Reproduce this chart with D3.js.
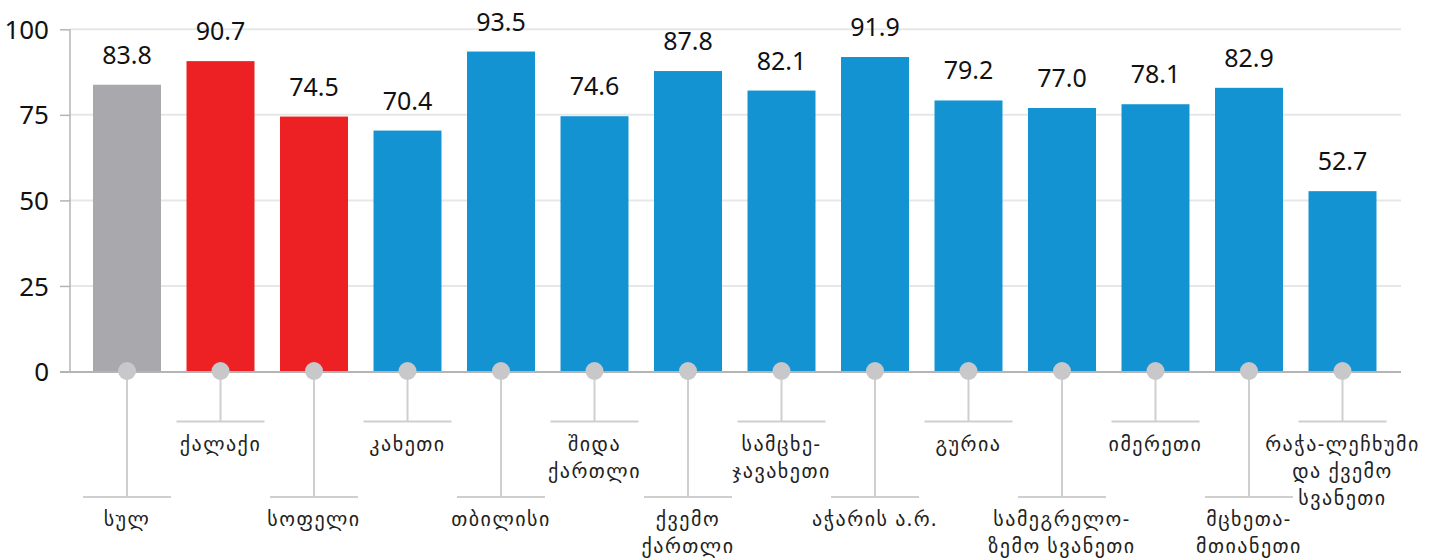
<!DOCTYPE html>
<html>
<head>
<meta charset="utf-8">
<script src="https://cdn.jsdelivr.net/npm/d3@7"></script>
<style>
  html, body { margin: 0; padding: 0; background: #fff; }
  svg { display: block; }
</style>
</head>
<body>
<svg id="chart" width="1438" height="560"></svg>
<script>
const categories = [
  "სულ", "ქალაქი", "სოფელი", "კახეთი", "თბილისი", "შიდა ქართლი", "ქვემო ქართლი",
  "სამცხე-ჯავახეთი", "აჭარის ა.რ.", "გურია", "სამეგრელო-ზემო სვანეთი", "იმერეთი",
  "მცხეთა-მთიანეთი", "რაჭა-ლეჩხუმი და ქვემო სვანეთი"
];
const labelLines = [
  ["სულ"], ["ქალაქი"], ["სოფელი"], ["კახეთი"], ["თბილისი"], ["შიდა", "ქართლი"],
  ["ქვემო", "ქართლი"], ["სამცხე-", "ჯავახეთი"], ["აჭარის ა.რ."], ["გურია"],
  ["სამეგრელო-", "ზემო სვანეთი"], ["იმერეთი"], ["მცხეთა-", "მთიანეთი"],
  ["რაჭა-ლეჩხუმი", "და ქვემო", "სვანეთი"]
];
const values = [83.8, 90.7, 74.5, 70.4, 93.5, 74.6, 87.8, 82.1, 91.9, 79.2, 77.0, 78.1, 82.9, 52.7];
const groups = ["total", "urban", "urban", "region", "region", "region", "region", "region",
  "region", "region", "region", "region", "region", "region"];
const yTicks = [0, 25, 50, 75, 100];

const colors = { total: "#a9a8ad", urban: "#ed2024", region: "#1393d1" };

const svg = d3.select("#chart");
const x = d3.scaleBand().domain(categories).range([80.25, 1389.25]).paddingInner(0.273).paddingOuter(0.1365);
const y = d3.scaleLinear().domain([0, 100]).range([371.5, 29.3]);

const fontNum = "'Noto Sans', 'Open Sans', sans-serif";
const fontGeo = "'Noto Sans', 'DejaVu Sans', sans-serif";

// gridlines
svg.append("g").selectAll("line").data(yTicks.filter(d => d > 0)).join("line")
  .attr("x1", 70).attr("x2", 1401)
  .attr("y1", d => y(d)).attr("y2", d => y(d))
  .attr("stroke", "#e6e8e8").attr("stroke-width", 2);

// y axis
const yAxis = d3.axisLeft(y).tickValues(yTicks).tickSize(10).tickPadding(11);
const ya = svg.append("g").attr("transform", "translate(70,0)").call(yAxis);
ya.select(".domain").attr("stroke", "#b4b4b4").attr("stroke-width", 1.5).attr("d", `M0,${y(100)}V${y(0)}`);
ya.selectAll(".tick line").attr("stroke", "#b4b4b4").attr("stroke-width", 1.5);
ya.selectAll(".tick text").attr("font-family", fontNum).attr("font-size", 26)
  .attr("fill", "#111").attr("dy", "0.35em");

// bars
svg.append("g").selectAll("rect").data(categories).join("rect")
  .attr("x", d => x(d)).attr("width", x.bandwidth())
  .attr("y", (d, i) => y(values[i])).attr("height", (d, i) => y(0) - y(values[i]))
  .attr("fill", (d, i) => colors[groups[i]]);

// baseline
svg.append("line").attr("x1", 60).attr("x2", 1401).attr("y1", 372).attr("y2", 372)
  .attr("stroke", "#b4b4b4").attr("stroke-width", 2);

// value labels
svg.append("g").selectAll("text").data(categories).join("text")
  .attr("x", d => x(d) + x.bandwidth() / 2)
  .attr("y", (d, i) => y(values[i]) - 21)
  .attr("text-anchor", "middle")
  .attr("font-family", fontNum).attr("font-size", 25).attr("fill", "#111")
  .text((d, i) => values[i].toFixed(1));

// leader lines & labels
const shortY = 421.5, longY = 497;
const leaders = svg.append("g");
categories.forEach((c, i) => {
  const cx = x(c) + x.bandwidth() / 2;
  const ly = i % 2 === 0 ? longY : shortY;
  leaders.append("line").attr("x1", cx).attr("x2", cx).attr("y1", 372).attr("y2", ly)
    .attr("stroke", "#cfcfcf").attr("stroke-width", 2);
  leaders.append("line").attr("x1", cx - 44).attr("x2", cx + 44).attr("y1", ly).attr("y2", ly)
    .attr("stroke", "#cfcfcf").attr("stroke-width", 2);
  leaders.append("circle").attr("cx", cx).attr("cy", 371).attr("r", 9).attr("fill", "#c8c8ca");
  const t = leaders.append("text").attr("text-anchor", "middle")
    .attr("font-family", fontGeo).attr("font-size", 20).attr("letter-spacing", 1.5)
    .attr("fill", "#222");
  labelLines[i].forEach((ln, k) => {
    t.append("tspan").attr("x", cx).attr("y", ly + 29 + k * 27).text(ln);
  });
});
</script>
</body>
</html>
